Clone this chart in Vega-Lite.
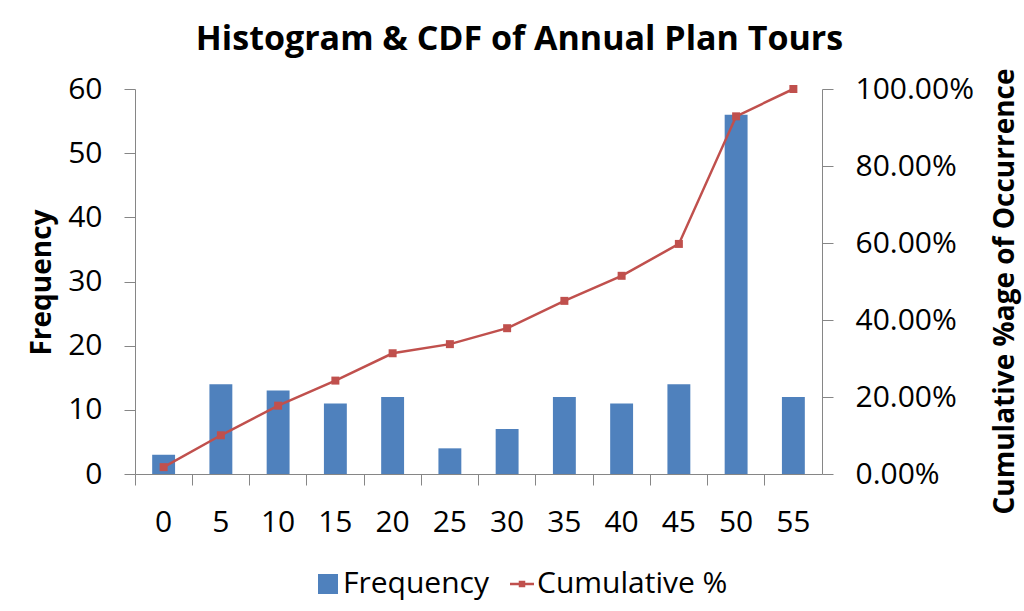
{
  "$schema": "https://vega.github.io/schema/vega-lite/v6.json",
  "width": 687,
  "height": 385,
  "autosize": "none",
  "padding": {"left": 135, "top": 89, "right": 202, "bottom": 137},
  "background": "white",
  "config": {
    "font": "Open Sans",
    "view": {"stroke": null}
  },
  "title": {
    "text": "Histogram & CDF of Annual Plan Tours",
    "fontSize": 34,
    "fontWeight": "bold",
    "font": "Open Sans",
    "color": "#000000",
    "anchor": "middle",
    "frame": "group",
    "dx": 41,
    "offset": 11
  },
  "data": {
    "values": [
      {"bin": "0", "freq": 3, "cum": 0.0178},
      {"bin": "5", "freq": 14, "cum": 0.1006},
      {"bin": "10", "freq": 13, "cum": 0.1775},
      {"bin": "15", "freq": 11, "cum": 0.2426},
      {"bin": "20", "freq": 12, "cum": 0.3136},
      {"bin": "25", "freq": 4, "cum": 0.3373},
      {"bin": "30", "freq": 7, "cum": 0.3787},
      {"bin": "35", "freq": 12, "cum": 0.4497},
      {"bin": "40", "freq": 11, "cum": 0.5148},
      {"bin": "45", "freq": 14, "cum": 0.5976},
      {"bin": "50", "freq": 56, "cum": 0.929},
      {"bin": "55", "freq": 12, "cum": 1.0}
    ]
  },
  "encoding": {
    "x": {
      "field": "bin",
      "type": "ordinal",
      "sort": null,
      "scale": {"paddingInner": 0.6, "paddingOuter": 0.3},
      "axis": {
        "title": null,
        "labelAngle": 0,
        "labelFontSize": 30,
        "labelColor": "#000000",
        "labelPadding": 22,
        "bandPosition": -0.75,
        "tickSize": 11,
        "domainColor": "#868686",
        "tickColor": "#868686",
        "grid": false
      }
    }
  },
  "layer": [
    {
      "mark": {"type": "bar", "color": "#4F81BD"},
      "encoding": {
        "y": {
          "field": "freq",
          "type": "quantitative",
          "scale": {"domain": [0, 60]},
          "axis": {
            "title": "Frequency",
            "titleFontSize": 28,
            "titleFontWeight": "bold",
            "titleColor": "#000000",
            "titleAngle": 270,
            "titleAlign": "center",
            "titleBaseline": "middle",
            "titleX": -93,
            "titleY": 193,
            "values": [0, 10, 20, 30, 40, 50, 60],
            "labelFontSize": 30,
            "labelColor": "#000000",
            "labelPadding": 22,
            "tickSize": 11,
            "domainColor": "#868686",
            "tickColor": "#868686",
            "grid": false
          }
        },
        "color": {
          "datum": "Frequency",
          "type": "nominal",
          "scale": {"domain": ["Frequency", "Cumulative %"], "range": ["#4F81BD", "#C0504D"]},
          "legend": {
            "title": null,
            "orient": "none",
            "direction": "horizontal",
            "legendX": 178,
            "legendY": 480,
            "labelFontSize": 30,
            "labelColor": "#000000",
            "symbolSize": 400,
            "columnPadding": 16,
            "labelOffset": 0,
            "labelLimit": 300,
            "encode": {
              "symbols": {
                "update": {
                  "shape": {"signal": "datum.value === 'Frequency' ? 'square' : 'M-1.2,0H1.2M-0.2,-0.2H0.2V0.2H-0.2Z'"},
                  "strokeWidth": {"signal": "datum.value === 'Frequency' ? 0 : 2.5"},
                  "stroke": {"signal": "datum.value === 'Frequency' ? '#4F81BD' : '#C0504D'"},
                  "fill": {"signal": "datum.value === 'Frequency' ? '#4F81BD' : '#C0504D'"},
                  "opacity": {"value": 1},
                  "fillOpacity": {"value": 1}
                }
              }
            }
          }
        }
      }
    },
    {
      "mark": {"type": "line", "color": "#C0504D", "strokeWidth": 2.5, "point": {"shape": "square", "size": 64, "color": "#C0504D", "filled": true}},
      "encoding": {
        "y": {
          "field": "cum",
          "type": "quantitative",
          "scale": {"domain": [0, 1]},
          "axis": {
            "orient": "right",
            "title": "Cumulative %age of Occurrence",
            "titleAngle": 270,
            "titleAlign": "center",
            "titleBaseline": "middle",
            "titleX": 183,
            "titleY": 202,
            "titleFontSize": 28,
            "titleFontWeight": "bold",
            "titleColor": "#000000",
            "format": ".2%",
            "values": [0, 0.2, 0.4, 0.6, 0.8, 1.0],
            "labelFontSize": 30,
            "labelColor": "#000000",
            "labelPadding": 22,
            "tickSize": 11,
            "domainColor": "#868686",
            "tickColor": "#868686",
            "grid": false
          }
        },
        "color": {"datum": "Cumulative %", "type": "nominal"}
      }
    }
  ],
  "resolve": {"scale": {"y": "independent"}}
}
